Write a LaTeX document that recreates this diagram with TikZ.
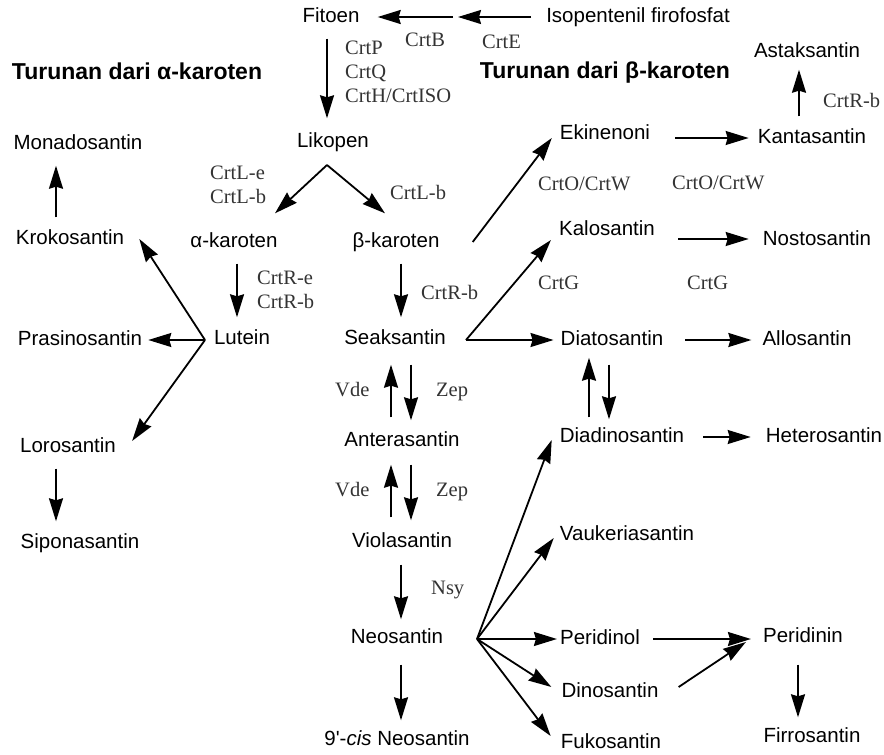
\documentclass[tikz,border=0pt]{standalone}
\usepackage{fontspec}
\setmainfont{Liberation Sans}
\newfontfamily\enzfont{Liberation Serif}
\usetikzlibrary{arrows.meta}

\begin{document}
\begin{tikzpicture}[x=1pt, y=-1pt,
  mol/.style={inner sep=0pt, font=\fontsize{20.5}{24}\selectfont, text height=15pt, text depth=4pt},
  enz/.style={inner sep=0pt, font=\enzfont\fontsize{20.5}{24}\selectfont, text=black!80, align=left, anchor=west},
  ttl/.style={inner sep=0pt, font=\bfseries\fontsize{23}{27}\selectfont},
  arr/.style={-{Stealth[length=23pt, width=14pt, inset=2pt]}, line width=1.8pt, shorten <=12pt, shorten >=12pt},
  brn/.style={arr, shorten <=0pt, shorten >=0pt},
]
  \useasboundingbox (0,0) rectangle (884,755);

  % titles
  \node[ttl] (ttla) at (137,71) {Turunan dari α-karoten};
  \node[ttl] (ttlb) at (605,73) {Turunan dari β-karoten};

  % carotenoids
  \node[mol] (fit) at (331,17)  {Fitoen};
  \node[mol] (ipp) at (638,17)  {Isopentenil firofosfat};
  \node[mol] (lik) at (333,142) {Likopen};
  \node[mol] (ak)  at (234,242) {α-karoten};
  \node[mol] (bk)  at (396,242) {β-karoten};
  \node[mol] (lut) at (242,339) {Lutein};
  \node[mol] (sea) at (395,339) {Seaksantin};
  \node[mol] (mon) at (78,144)  {Monadosantin};
  \node[mol] (kro) at (70,239)  {Krokosantin};
  \node[mol] (pra) at (80,340)  {Prasinosantin};
  \node[mol] (lor) at (68,447)  {Lorosantin};
  \node[mol] (sip) at (80,543)  {Siponasantin};
  \node[mol] (ast) at (807,52)  {Astaksantin};
  \node[mol] (eki) at (605,134) {Ekinenoni};
  \node[mol] (kan) at (812,138) {Kantasantin};
  \node[mol] (kal) at (607,230) {Kalosantin};
  \node[mol] (nos) at (817,240) {Nostosantin};
  \node[mol] (dia) at (612,340) {Diatosantin};
  \node[mol] (all) at (807,340) {Allosantin};
  \node[mol] (ddn) at (622,437) {Diadinosantin};
  \node[mol] (het) at (824,437) {Heterosantin};
  \node[mol] (ant) at (402,441) {Anterasantin};
  \node[mol] (vau) at (627,535) {Vaukeriasantin};
  \node[mol] (vio) at (402,542) {Violasantin};
  \node[mol] (neo) at (397,638) {Neosantin};
  \node[mol] (per) at (600,639) {Peridinol};
  \node[mol] (pdn) at (803,637) {Peridinin};
  \node[mol] (din) at (610,692) {Dinosantin};
  \node[mol] (cis) at (397,740) {9\textquotesingle-\textit{cis} Neosantin};
  \node[mol] (fuk) at (611,743) {Fukosantin};
  \node[mol] (fir) at (812,737) {Firrosantin};

  % enzymes
  \node[enz] (crtb)  at (405,40)  {CrtB};
  \node[enz] (crte)  at (482,42)  {CrtE};
  \node[enz] (crtpq) at (345,72)  {CrtP\\CrtQ\\CrtH/CrtISO};
  \node[enz] (crtla) at (210,185) {CrtL-e\\CrtL-b};
  \node[enz] (crtlb) at (390,192) {CrtL-b};
  \node[enz] (crtra) at (257,290) {CrtR-e\\CrtR-b};
  \node[enz] (crtrb) at (421,292) {CrtR-b};
  \node[enz] (crtrc) at (823,100) {CrtR-b};
  \node[enz] (crtoa) at (538,184) {CrtO/CrtW};
  \node[enz] (crtob) at (672,183) {CrtO/CrtW};
  \node[enz] (crtga) at (538,283) {CrtG};
  \node[enz] (crtgb) at (687,283) {CrtG};
  \node[enz] (vdea)  at (335,390) {Vde};
  \node[enz] (zepa)  at (436,392) {Zep};
  \node[enz] (vdeb)  at (335,490) {Vde};
  \node[enz] (zepb)  at (436,492) {Zep};
  \node[enz] (nsy)   at (431,590) {Nsy};

  % branch points
  \coordinate (ggpp) at (456,17);
  \coordinate (likb) at (327,165);
  \coordinate (lutb) at (205,340);
  \coordinate (seab) at (466,340);
  \coordinate (neob) at (477,639);

  % main chain
  \draw[arr, shorten <=15pt, shorten >=2pt] (ipp.west) -- (ggpp);
  \draw[arr, shorten <=3pt, shorten >=18pt] (ggpp) -- (fit.east);
  \draw[arr, shorten >=14pt] ([xshift=-4pt]fit.south) -- ([xshift=-6pt]lik.north);
  \draw[brn] (likb) -- ([xshift=41pt,yshift=19pt]ak.north);
  \draw[brn] (likb) -- ([xshift=-11pt,yshift=19pt]bk.north);
  \draw[arr] ([xshift=3pt]ak.south) -- ([xshift=-5pt]lut.north);
  \draw[arr] ([xshift=5pt]bk.south) -- ([xshift=6pt]sea.north);

  % alpha side
  \draw[brn] (lutb) -- ([xshift=15pt]kro.east);
  \draw[brn] (lutb) -- ([xshift=6pt]pra.east);
  \draw[brn] (lutb) -- ([xshift=16pt,yshift=6pt]lor.east);
  \draw[arr] ([xshift=-14pt]kro.north) -- ([xshift=-22pt]mon.south);
  \draw[arr] ([xshift=-12pt]lor.south) -- ([xshift=-24pt]sip.north);

  % beta side
  \draw[brn] ([xshift=33pt]bk.east) -- ([xshift=-8pt,yshift=-4pt]eki.west);
  \draw[arr, shorten <=25pt, shorten >=9pt] ([yshift=-4pt]eki.east) -- (kan.west);
  \draw[arr, shorten >=8pt] ([xshift=-13pt]kan.north) -- ([xshift=-8pt]ast.south);
  \draw[brn] (seab) -- ([xshift=-8pt,yshift=-10pt]kal.west);
  \draw[brn] (seab) -- ([xshift=-7pt]dia.west);
  \draw[arr, shorten <=23pt, shorten >=14pt] ([yshift=-9pt]kal.east) -- ([yshift=1pt]nos.west);
  \draw[arr, shorten <=22pt, shorten >=11pt] (dia.east) -- (all.west);
  \draw[arr, shorten <=19pt, shorten >=15pt] (ddn.east) -- (het.west);
  \draw[arr, shorten <=10pt, shorten >=8pt] ([xshift=-33pt]ddn.north) -- ([xshift=-23pt]dia.south);
  \draw[arr, shorten <=15pt, shorten >=8pt] ([xshift=-3pt]dia.south) -- ([xshift=-13pt]ddn.north);

  % xanthophyll cycle
  \draw[arr, shorten <=14pt, shorten >=16pt] ([xshift=-11pt]ant.north) -- ([xshift=-4pt]sea.south);
  \draw[arr, shorten <=16pt, shorten >=11pt] ([xshift=16pt]sea.south) -- ([xshift=9pt]ant.north);
  \draw[arr, shorten <=15pt, shorten >=14pt] ([xshift=-11pt]vio.north) -- ([xshift=-11pt]ant.south);
  \draw[arr, shorten <=14pt, shorten >=12pt] ([xshift=9pt]ant.south) -- ([xshift=9pt]vio.north);
  \draw[arr, shorten <=13pt, shorten >=9pt] ([xshift=-1pt]vio.south) -- ([xshift=4pt]neo.north);
  \draw[arr, shorten <=17pt, shorten >=10pt] ([xshift=4pt]neo.south) -- ([xshift=4pt]cis.north);

  % neoxanthin products
  \draw[brn] (neob) -- ([xshift=-8pt,yshift=-3pt]ddn.west);
  \draw[brn] (neob) -- ([xshift=-6pt,yshift=-3pt]vau.west);
  \draw[brn] (neob) -- ([xshift=-3pt]per.west);
  \draw[brn] (neob) -- ([xshift=-10pt,yshift=5pt]din.west);
  \draw[brn] (neob) -- ([xshift=-10pt,yshift=7pt]fuk.west);
  \draw[arr, shorten <=13pt, shorten >=12pt] (per.east) -- ([yshift=-2pt]pdn.west);
  \draw[brn] ([xshift=20pt,yshift=5pt]din.east) -- ([xshift=-17pt,yshift=-5pt]pdn.west);
  \draw[arr, shorten <=18pt, shorten >=10pt] ([xshift=-5pt]pdn.south) -- ([xshift=-14pt]fir.north);
\end{tikzpicture}
\end{document}
